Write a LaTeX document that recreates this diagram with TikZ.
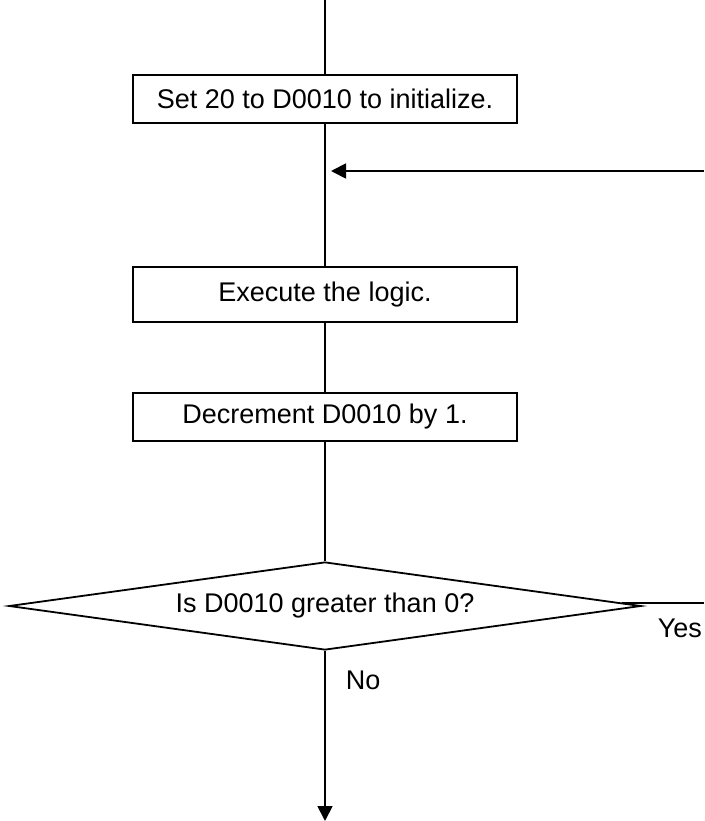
\documentclass[tikz,border=0pt]{standalone}
\usepackage{fontspec}
\setmainfont{Liberation Sans}
\usetikzlibrary{shapes.geometric,arrows.meta}
\begin{document}
\begin{tikzpicture}
[x=1pt,y=-1pt,line width=1.8pt,
 box/.style={rectangle,draw,minimum width=384pt,minimum height=48pt,inner sep=0pt,font=\fontsize{27}{32}\selectfont},
 decision/.style={diamond,draw,aspect=7,inner sep=0pt,minimum width=632pt,minimum height=88pt,font=\fontsize{27}{32}\selectfont},
 answer/.style={inner sep=0pt,font=\fontsize{27}{32}\selectfont},
 flow/.style={-{Triangle[width=15pt,length=15pt]}}]
\useasboundingbox (0,0) rectangle (704,821);
\coordinate (start) at (325,0);
\node[box] (init) at (325,99) {Set 20 to D0010 to initialize.};
\coordinate (loopin) at (331,171);
\coordinate (back) at (704,171);
\node[box, minimum height=55pt] (logic) at (325,294.5) {Execute the logic.};
\node[box] (decr) at (325,417) {Decrement D0010 by 1.};
\node[decision] (test) at (325,606) {Is D0010 greater than 0?};
\coordinate (yesend) at (704,603);
\coordinate (noend) at (325,821);
\node[answer, anchor=west] (yes) at (657,628) {Yes};
\node[answer, anchor=west] (no) at (345,680) {No};

\draw (start) -- (init);
\draw (init) -- (logic);
\draw[flow] (back) -- (loopin);
\draw (logic) -- (decr);
\draw (decr) -- (test);
\draw ([xshift=-20pt,yshift=3pt]test.east) -- (yesend);
\draw[flow] (test.south) -- (noend);
\end{tikzpicture}
\end{document}
